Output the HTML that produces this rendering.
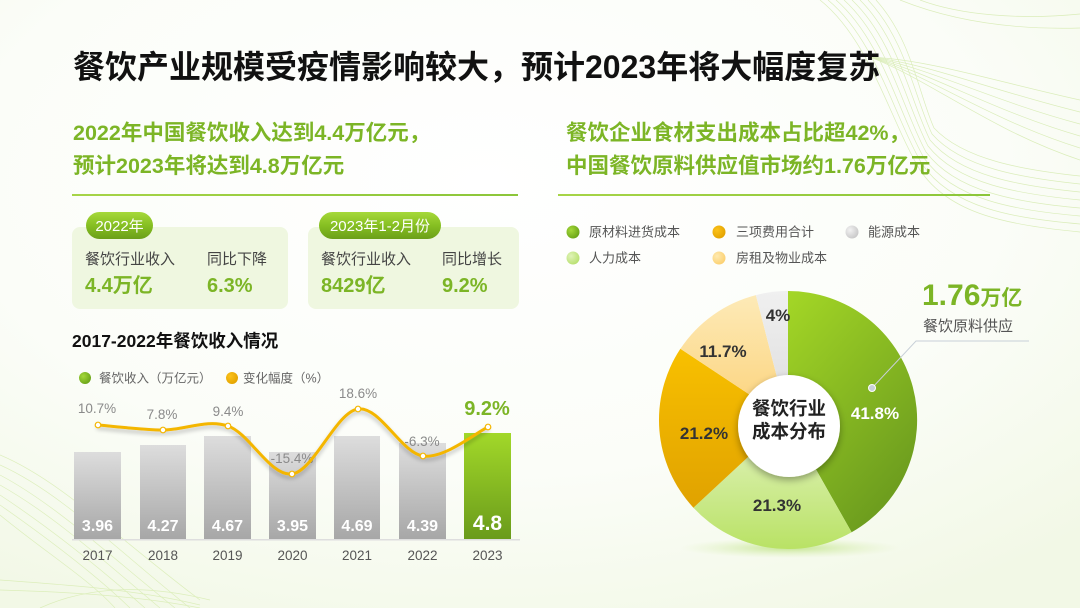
<!DOCTYPE html>
<html><head><meta charset="utf-8">
<style>
html,body{margin:0;padding:0;}
body{width:1080px;height:608px;overflow:hidden;background:#f8fbf3;}
svg{display:block;}
text{font-family:"Liberation Sans","Noto Sans CJK SC",sans-serif;}
</style></head>
<body>
<svg width="1080" height="608" viewBox="0 0 1080 608" xmlns="http://www.w3.org/2000/svg">
<defs>
  <radialGradient id="bg" cx="0.45" cy="0.3" r="0.8">
    <stop offset="0" stop-color="#ffffff"/>
    <stop offset="0.6" stop-color="#fbfdf8"/>
    <stop offset="1" stop-color="#f2f8e6"/>
  </radialGradient>
  <linearGradient id="gline" x1="0" y1="0" x2="1" y2="0">
    <stop offset="0" stop-color="#a6d447"/><stop offset="1" stop-color="#8cc63a"/>
  </linearGradient>
  <linearGradient id="badge" x1="0" y1="0" x2="0" y2="1">
    <stop offset="0" stop-color="#a6d93a"/><stop offset="0.5" stop-color="#86bf22"/><stop offset="1" stop-color="#6b9f19"/>
  </linearGradient>
  <linearGradient id="barg" x1="0" y1="0" x2="0" y2="1">
    <stop offset="0" stop-color="#dddddd"/><stop offset="1" stop-color="#a7a7a7"/>
  </linearGradient>
  <linearGradient id="barG" x1="0" y1="0" x2="0" y2="1">
    <stop offset="0" stop-color="#a2d829"/><stop offset="1" stop-color="#6a9b1b"/>
  </linearGradient>
  <linearGradient id="pGreen" x1="0" y1="0" x2="0.6" y2="1">
    <stop offset="0" stop-color="#a4d726"/><stop offset="1" stop-color="#6c9c1e"/>
  </linearGradient>
  <linearGradient id="pLight" x1="0" y1="0" x2="0" y2="1">
    <stop offset="0" stop-color="#e4f4c4"/><stop offset="1" stop-color="#b9e265"/>
  </linearGradient>
  <linearGradient id="pOrange" x1="0" y1="0" x2="0" y2="1">
    <stop offset="0" stop-color="#f8c000"/><stop offset="1" stop-color="#e0a200"/>
  </linearGradient>
  <linearGradient id="pYellow" x1="0" y1="0" x2="0" y2="1">
    <stop offset="0" stop-color="#fdeab7"/><stop offset="1" stop-color="#fcd27a"/>
  </linearGradient>
  <linearGradient id="pGray" x1="0" y1="0" x2="0" y2="1">
    <stop offset="0" stop-color="#f0f0f0"/><stop offset="1" stop-color="#dcdcdc"/>
  </linearGradient>
  <radialGradient id="glow" cx="0.5" cy="0.5" r="0.5">
    <stop offset="0" stop-color="#b8e07a" stop-opacity="0.8"/><stop offset="1" stop-color="#d8eeb0" stop-opacity="0"/>
  </radialGradient>
  <radialGradient id="sGreen" cx="0.35" cy="0.35" r="0.7"><stop offset="0" stop-color="#a4d83a"/><stop offset="1" stop-color="#6aa418"/></radialGradient>
  <radialGradient id="sOrange" cx="0.35" cy="0.35" r="0.7"><stop offset="0" stop-color="#fcc21a"/><stop offset="1" stop-color="#e3a300"/></radialGradient>
  <radialGradient id="sGray" cx="0.35" cy="0.35" r="0.7"><stop offset="0" stop-color="#f2f2f2"/><stop offset="1" stop-color="#c8c8c8"/></radialGradient>
  <radialGradient id="sLight" cx="0.35" cy="0.35" r="0.7"><stop offset="0" stop-color="#e0f3b8"/><stop offset="1" stop-color="#b8e070"/></radialGradient>
  <radialGradient id="sYellow" cx="0.35" cy="0.35" r="0.7"><stop offset="0" stop-color="#feeab0"/><stop offset="1" stop-color="#fcd070"/></radialGradient>
  <filter id="sh" x="-20%" y="-20%" width="140%" height="160%">
    <feGaussianBlur in="SourceAlpha" stdDeviation="2"/>
    <feOffset dy="3"/>
    <feComponentTransfer><feFuncA type="linear" slope="0.25"/></feComponentTransfer>
    <feMerge><feMergeNode/><feMergeNode in="SourceGraphic"/></feMerge>
  </filter>
  <filter id="csh" x="-30%" y="-30%" width="160%" height="160%">
    <feGaussianBlur in="SourceAlpha" stdDeviation="4"/>
    <feOffset dy="3"/>
    <feComponentTransfer><feFuncA type="linear" slope="0.35"/></feComponentTransfer>
    <feMerge><feMergeNode/><feMergeNode in="SourceGraphic"/></feMerge>
  </filter>
</defs>

<rect width="1080" height="608" fill="url(#bg)"/>

<!-- decorative lines top right -->
<g fill="none" stroke="#c2e18a" stroke-width="0.7" opacity="0.55">
  <path d="M820,0 C870,40 890,120 920,170 C950,215 1010,225 1080,232"/>
  <path d="M828,0 C876,40 894,116 922,164 C952,208 1012,218 1080,224"/>
  <path d="M836,0 C882,40 898,112 924,158 C954,200 1014,210 1080,216"/>
  <path d="M844,0 C888,40 902,108 926,152 C956,192 1016,202 1080,208"/>
  <path d="M852,0 C894,40 906,104 928,146 C958,184 1018,194 1080,200"/>
  <path d="M860,0 C900,40 910,100 930,140 C960,176 1020,186 1080,192"/>
  <path d="M868,0 C906,40 914,96 932,134 C962,168 1022,178 1080,184"/>
  <path d="M876,0 C912,40 918,92 934,128 C964,160 1024,170 1080,176"/>
  <path d="M870,57 C930,60 990,80 1080,100"/>
  <path d="M870,57 C930,64 990,90 1080,112"/>
  <path d="M870,57 C930,68 990,100 1080,124"/>
  <path d="M870,57 C930,72 990,110 1080,136"/>
  <path d="M870,57 C930,76 990,120 1080,148"/>
  <path d="M870,57 C930,80 990,130 1080,160"/>
  <path d="M900,0 C950,20 1010,30 1080,28"/>
  <path d="M920,0 C960,15 1020,20 1080,14"/>
</g>
<!-- decorative lines bottom left -->
<g fill="none" stroke="#c6e48f" stroke-width="0.7" opacity="0.5">
  <path d="M0,455 C60,480 120,540 200,600"/>
  <path d="M0,465 C60,492 115,548 190,608"/>
  <path d="M0,475 C55,504 110,556 175,608"/>
  <path d="M0,485 C55,516 105,562 160,608"/>
  <path d="M0,495 C50,528 100,568 145,608"/>
  <path d="M0,505 C50,540 95,574 130,608"/>
  <path d="M0,515 C45,552 90,580 115,608"/>
  <path d="M0,580 C70,585 140,590 200,605"/>
  <path d="M0,590 C70,592 140,596 200,608"/>
  <path d="M40,608 C90,585 150,585 210,600"/>
</g>

<!-- title -->
<text x="73" y="78" font-size="32" font-weight="bold" fill="#111">餐饮产业规模受疫情影响较大，预计2023年将大幅度复苏</text>

<!-- subtitles -->
<g font-size="21.5" font-weight="bold" fill="#7cb526">
  <text x="73" y="140">2022年中国餐饮收入达到4.4万亿元，</text>
  <text x="73" y="173">预计2023年将达到4.8万亿元</text>
  <text x="566" y="140">餐饮企业食材支出成本占比超42%，</text>
  <text x="566" y="173">中国餐饮原料供应值市场约1.76万亿元</text>
</g>
<rect x="72" y="194" width="446" height="2" fill="url(#gline)"/>
<rect x="558" y="194" width="432" height="2" fill="url(#gline)"/>

<!-- info boxes -->
<rect x="72" y="227" width="216" height="82" rx="8" fill="#eff7e0"/>
<rect x="308" y="227" width="211" height="82" rx="8" fill="#eff7e0"/>
<rect x="86" y="212" width="67" height="27" rx="13.5" fill="url(#badge)"/>
<rect x="319" y="212" width="122" height="27" rx="13.5" fill="url(#badge)"/>
<text x="119.5" y="231" font-size="15" fill="#fff" text-anchor="middle">2022年</text>
<text x="380" y="231" font-size="15" fill="#fff" text-anchor="middle">2023年1-2月份</text>
<g font-size="15" fill="#444">
  <text x="85" y="264">餐饮行业收入</text>
  <text x="207" y="264">同比下降</text>
  <text x="321" y="264">餐饮行业收入</text>
  <text x="442" y="264">同比增长</text>
</g>
<g font-size="20" font-weight="bold" fill="#7cb526">
  <text x="85" y="292">4.4万亿</text>
  <text x="207" y="292">6.3%</text>
  <text x="321" y="292">8429亿</text>
  <text x="442" y="292">9.2%</text>
</g>

<!-- bar chart title -->
<text x="72" y="347" font-size="17.5" font-weight="bold" fill="#111">2017-2022年餐饮收入情况</text>
<circle cx="85" cy="378" r="6" fill="url(#sGreen)"/>
<text x="99" y="382.5" font-size="12.5" fill="#666">餐饮收入（万亿元）</text>
<circle cx="232" cy="378" r="6" fill="url(#sOrange)"/>
<text x="243" y="382.5" font-size="12.5" fill="#666">变化幅度（%）</text>

<!-- bars -->
<rect x="74" y="452" width="47" height="87" fill="url(#barg)"/>
<rect x="140" y="445" width="46" height="94" fill="url(#barg)"/>
<rect x="204" y="436" width="47" height="103" fill="url(#barg)"/>
<rect x="269" y="452" width="47" height="87" fill="url(#barg)"/>
<rect x="334" y="436" width="46" height="103" fill="url(#barg)"/>
<rect x="399" y="443" width="47" height="96" fill="url(#barg)"/>
<rect x="464" y="433" width="47" height="106" fill="url(#barG)"/>
<rect x="72" y="539" width="448" height="1.5" fill="#dedede"/>

<g font-size="16" font-weight="bold" fill="#fff" text-anchor="middle">
  <text x="97.5" y="531">3.96</text>
  <text x="163" y="531">4.27</text>
  <text x="227.5" y="531">4.67</text>
  <text x="292.5" y="531">3.95</text>
  <text x="357" y="531">4.69</text>
  <text x="422.5" y="531">4.39</text>
  <text x="487.5" y="530" font-size="21">4.8</text>
</g>
<g font-size="13.5" fill="#555" text-anchor="middle">
  <text x="97.5" y="560">2017</text>
  <text x="163" y="560">2018</text>
  <text x="227.5" y="560">2019</text>
  <text x="292.5" y="560">2020</text>
  <text x="357" y="560">2021</text>
  <text x="422.5" y="560">2022</text>
  <text x="487.5" y="560">2023</text>
</g>

<!-- percentage labels -->
<g font-size="13.5" fill="#8a8a8a" text-anchor="middle">
  <text x="97" y="413">10.7%</text>
  <text x="162" y="419">7.8%</text>
  <text x="228" y="416">9.4%</text>
  <text x="292" y="463">-15.4%</text>
  <text x="358" y="398">18.6%</text>
  <text x="422" y="446">-6.3%</text>
</g>
<text x="487" y="415" font-size="20" font-weight="bold" fill="#7cb526" text-anchor="middle">9.2%</text>

<!-- line -->
<path filter="url(#sh)" fill="none" stroke="#f4b600" stroke-width="3" stroke-linecap="round"
 d="M98,425 C108.8,425.8 141.3,429.8 163,430 C184.7,430.2 206.5,418.7 228,426 C249.5,433.3 270.3,476.8 292,474 C313.7,471.2 336.2,412 358,409 C379.8,406 401.3,453 423,456 C444.7,459 477.2,431.8 488,427"/>
<g fill="#fff" stroke="#f4b600" stroke-width="1.2">
  <circle cx="98" cy="425" r="2.8"/>
  <circle cx="163" cy="430" r="2.8"/>
  <circle cx="228" cy="426" r="2.8"/>
  <circle cx="292" cy="474" r="2.8"/>
  <circle cx="358" cy="409" r="2.8"/>
  <circle cx="423" cy="456" r="2.8"/>
  <circle cx="488" cy="427" r="2.8"/>
</g>

<!-- right legend -->
<circle cx="573" cy="232" r="6.5" fill="url(#sGreen)"/>
<circle cx="719" cy="232" r="6.5" fill="url(#sOrange)"/>
<circle cx="852" cy="232" r="6.5" fill="url(#sGray)"/>
<circle cx="573" cy="258" r="6.5" fill="url(#sLight)"/>
<circle cx="719" cy="258" r="6.5" fill="url(#sYellow)"/>
<g font-size="13" fill="#555">
  <text x="589" y="236.5">原材料进货成本</text>
  <text x="736" y="236.5">三项费用合计</text>
  <text x="868" y="236.5">能源成本</text>
  <text x="589" y="262.5">人力成本</text>
  <text x="736" y="262.5">房租及物业成本</text>
</g>

<!-- pie -->
<ellipse cx="790" cy="548" rx="110" ry="10" fill="url(#glow)"/>
<path d="M788,420 L788,291 A129,129 0 0 1 851.6,532.3 Z" fill="url(#pGreen)"/>
<path d="M788,420 L851.6,532.3 A129,129 0 0 1 693.4,507.7 Z" fill="url(#pLight)"/>
<path d="M788,420 L693.4,507.7 A129,129 0 0 1 680.4,348.8 Z" fill="url(#pOrange)"/>
<path d="M788,420 L680.4,348.8 A129,129 0 0 1 755.9,295.1 Z" fill="url(#pYellow)"/>
<path d="M788,420 L755.9,295.1 A129,129 0 0 1 788,291 Z" fill="url(#pGray)"/>
<circle cx="789" cy="426" r="51" fill="#fff" filter="url(#csh)"/>
<g font-size="18.5" font-weight="bold" fill="#222" text-anchor="middle">
  <text x="789" y="415">餐饮行业</text>
  <text x="789" y="438">成本分布</text>
</g>
<g font-size="17" font-weight="bold" text-anchor="middle">
  <text x="875" y="419" fill="#fff">41.8%</text>
  <text x="777" y="511" fill="#333">21.3%</text>
  <text x="704" y="439" fill="#333">21.2%</text>
  <text x="723" y="357" fill="#333">11.7%</text>
  <text x="778" y="321" fill="#333">4%</text>
</g>

<!-- callout -->
<polyline points="872,388 916,341 1029,341" fill="none" stroke="#c8d0d8" stroke-width="1"/>
<circle cx="872" cy="388" r="3.5" fill="#c8d0d8" stroke="#fff" stroke-width="1"/>
<text x="922" y="305" font-weight="bold" fill="#7cb526"><tspan font-size="30">1.76</tspan><tspan font-size="21">万亿</tspan></text>
<text x="923" y="331" font-size="15" fill="#555">餐饮原料供应</text>
</svg>
</body></html>
